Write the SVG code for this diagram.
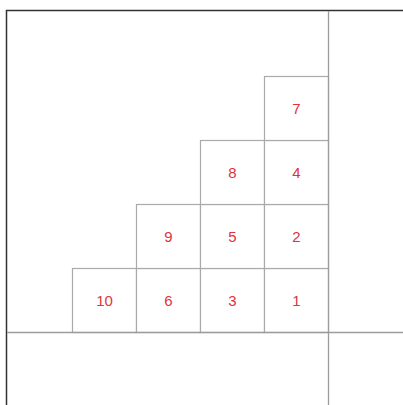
<svg xmlns="http://www.w3.org/2000/svg" width="403" height="405" viewBox="0 0 403 405">
<style>
.cell{fill:#fff;stroke:#aaaaaa;stroke-width:1.2}
.lbl{font-family:"Liberation Sans",Arial,sans-serif;font-size:15px;fill:#e0323c;text-anchor:middle;dominant-baseline:central}
.axis{stroke:#9c9c9c;stroke-width:1.3;fill:none}
</style>
<rect x="0" y="0" width="403" height="405" fill="#fff"/>
<g id="frame">
<path d="M6.5,405 V10.5 H403" fill="none" stroke="#333" stroke-width="1.5"/>
</g>
<g id="n10"><rect class="cell" x="72.5" y="268.5" width="64" height="64"/><text class="lbl" x="104.5" y="300.5">10</text></g>
<g id="n6"><rect class="cell" x="136.5" y="268.5" width="64" height="64"/><text class="lbl" x="168.5" y="300.5">6</text></g>
<g id="n3"><rect class="cell" x="200.5" y="268.5" width="64" height="64"/><text class="lbl" x="232.5" y="300.5">3</text></g>
<g id="n1"><rect class="cell" x="264.5" y="268.5" width="64" height="64"/><text class="lbl" x="296.5" y="300.5">1</text></g>
<g id="n9"><rect class="cell" x="136.5" y="204.5" width="64" height="64"/><text class="lbl" x="168.5" y="236.5">9</text></g>
<g id="n5"><rect class="cell" x="200.5" y="204.5" width="64" height="64"/><text class="lbl" x="232.5" y="236.5">5</text></g>
<g id="n2"><rect class="cell" x="264.5" y="204.5" width="64" height="64"/><text class="lbl" x="296.5" y="236.5">2</text></g>
<g id="n8"><rect class="cell" x="200.5" y="140.5" width="64" height="64"/><text class="lbl" x="232.5" y="172.5">8</text></g>
<g id="n4"><rect class="cell" x="264.5" y="140.5" width="64" height="64"/><text class="lbl" x="296.5" y="172.5">4</text></g>
<g id="n7"><rect class="cell" x="264.5" y="76.5" width="64" height="64"/><text class="lbl" x="296.5" y="108.5">7</text></g>
<g id="connectors">
<line class="axis" x1="328.5" y1="11" x2="328.5" y2="405"/>
<line class="axis" x1="7" y1="332.5" x2="403" y2="332.5"/>
</g>
</svg>
